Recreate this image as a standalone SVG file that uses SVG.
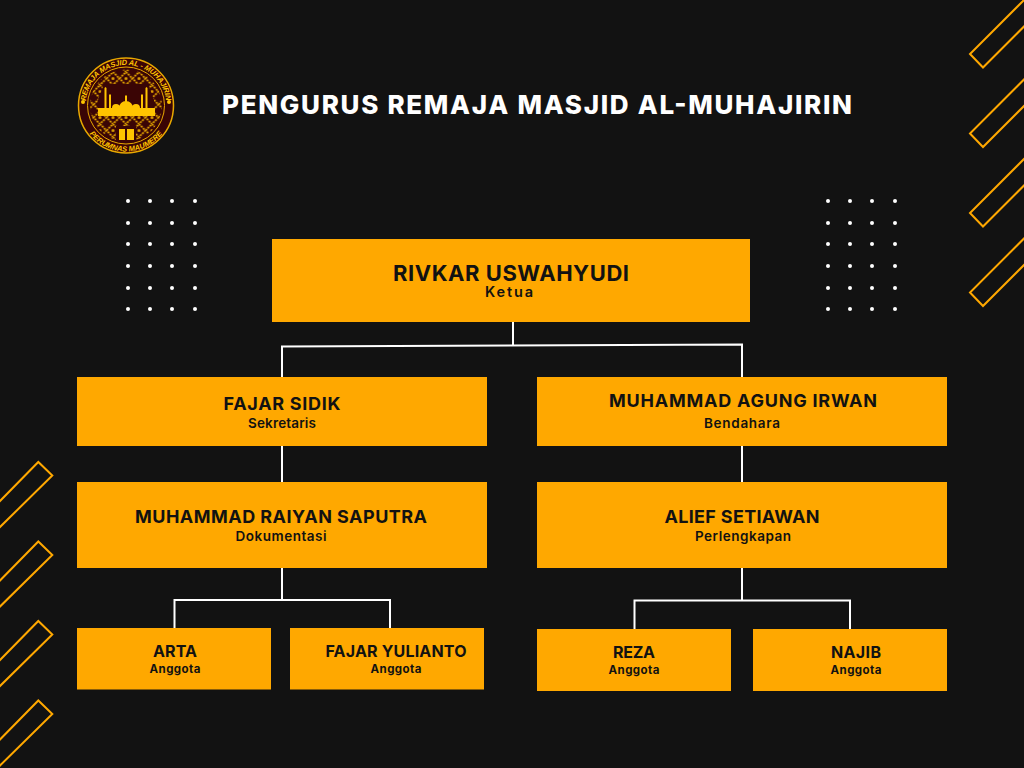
<svg xmlns="http://www.w3.org/2000/svg" width="1024" height="768" viewBox="0 0 1024 768">
<style>
.box{fill:#ffa800}
.t{font-family:"Inter","Liberation Sans",sans-serif;fill:#121212;text-anchor:middle}
.n1{font-size:22px;font-weight:700}
.n2{font-size:18px;font-weight:700}
.n3{font-size:16px;font-weight:700}
.r1{font-size:14.500px;font-weight:600}
.r2{font-size:13.500px;font-weight:600}
.r3{font-size:11.500px;font-weight:700}
.c{fill:none;stroke:#fff;stroke-width:2}
.d{fill:none;stroke:#ffa800;stroke-width:2}
.dot{fill:#fff}
.lg{font-family:"Liberation Sans",sans-serif;font-size:7.500px;font-style:italic;font-weight:700;fill:#ffc400}
</style>
<defs>
<g id="dots"><g id="dr"><circle class="dot" cx="0" cy="0" r="2"/><circle class="dot" cx="22" cy="0" r="2"/><circle class="dot" cx="44" cy="0" r="2"/><circle class="dot" cx="67" cy="0" r="2"/></g><use href="#dr" y="22"/><use href="#dr" y="43"/><use href="#dr" y="65"/><use href="#dr" y="87"/><use href="#dr" y="108"/></g>
<path id="sr" class="d" d="M1025 -1L970 54L983 67.500L1025 25.500"/>
<path id="sl" class="d" d="M-1 502L38.300 462L52.300 475.500L-1 528"/>
<path id="arcTop" d="M85.500 105.500A40.500 40.500 0 0 1 166.500 105.500"/>
<path id="arcBot" d="M80 105.500A46 46 0 0 0 172 105.500"/>
<pattern id="lat" width="13" height="13" patternUnits="userSpaceOnUse" x="119.500" y="72">
<path d="M0 6.500L6.500 0L13 6.500L6.500 13Z" fill="none" stroke="#e0a000" stroke-width="1.800" stroke-dasharray="2 1"/>
<circle cx="6.500" cy="6.500" r="1.500" fill="#e0a000"/>
</pattern>
<clipPath id="inner"><circle cx="126" cy="105.500" r="36"/></clipPath>
</defs>
<rect width="1024" height="768" fill="#121212"/>
<g id="deco">
<use href="#sr"/><use href="#sr" y="79.500"/><use href="#sr" y="159"/><use href="#sr" y="238.500"/>
<use href="#sl"/><use href="#sl" y="79.500"/><use href="#sl" y="159"/><use href="#sl" y="238.500"/>
<use href="#dots" x="128" y="201"/><use href="#dots" x="828" y="201"/>
</g>
<g id="logo">
<circle cx="126" cy="105.500" r="47.500" fill="#3a0505" stroke="#e8a800" stroke-width="1.500"/>
<circle cx="126" cy="105.500" r="38.500" fill="none" stroke="#e8a800" stroke-width="1"/>
<circle cx="83" cy="102" r="2" fill="#ffc400"/><circle cx="169" cy="102" r="2" fill="#ffc400"/>
<rect x="88" y="68" width="76" height="76" fill="url(#lat)" clip-path="url(#inner)"/>
<path d="M98 116V100L104 84H148L154 100V116Z" fill="#3a0505"/>
<path d="M116 126h20v16h-20z" fill="#3a0505"/>
<path d="M98 108h57v8h-57zM104.500 88l1-1 1 1v20h-2zM109 95l1-1 1 1v13h-2zM141 95l1-1 1 1v13h-2zM145.500 88l1-1 1 1v20h-2zM119 108a7 7 0 0 1 14 0zM112 108a4 4 0 0 1 8 0zM132 108a4 4 0 0 1 8 0zM125 96l1-1 1 1v6h-2zM119 129h6v11h-6zM127 129h7v11h-7z" fill="#ffc400"/>
<text class="lg" letter-spacing=".2"><textPath href="#arcTop" startOffset="50%" text-anchor="middle" textLength="118">REMAJA MASJID AL - MUHAJIRIN</textPath></text>
<text class="lg" font-size="7"><textPath href="#arcBot" startOffset="50%" text-anchor="middle">PERUMNAS MAUMERE</textPath></text>
</g>
<text id="title" x="537" y="114" font-family="Inter,Liberation Sans,sans-serif" font-size="26" font-weight="800" fill="#fff" text-anchor="middle" textLength="630" lengthAdjust="spacing">PENGURUS REMAJA MASJID AL-MUHAJIRIN</text>
<g id="connectors">
<path class="c" d="M513 322V345.500M282 377V346.500L742 344.500V377M282 446V482M742 446V482M282 568V599M174.500 628V600H390V628M742 568V600M634.500 629V600.500H850V629"/>
</g>
<g id="ketua"><rect class="box" x="272" y="239" width="478" height="83"/><text class="t n1" x="511" y="281" textLength="236">RIVKAR USWAHYUDI</text><text class="t r1" x="509" y="297" textLength="48">Ketua</text></g>
<g id="sekretaris"><rect class="box" x="77" y="377" width="410" height="69"/><text class="t n2" x="282" y="410" textLength="117">FAJAR SIDIK</text><text class="t r2" x="282" y="428" textLength="68">Sekretaris</text></g>
<g id="bendahara"><rect class="box" x="537" y="377" width="410" height="69"/><text class="t n2" x="743" y="407" textLength="268">MUHAMMAD AGUNG IRWAN</text><text class="t r2" x="742" y="428" textLength="76">Bendahara</text></g>
<g id="dokumentasi"><rect class="box" x="77" y="482" width="410" height="86"/><text class="t n2" x="281" y="523" textLength="292">MUHAMMAD RAIYAN SAPUTRA</text><text class="t r2" x="281" y="541" textLength="91">Dokumentasi</text></g>
<g id="perlengkapan"><rect class="box" x="537" y="482" width="410" height="86"/><text class="t n2" x="742" y="523" textLength="155">ALIEF SETIAWAN</text><text class="t r2" x="743" y="541" textLength="96">Perlengkapan</text></g>
<g id="arta"><rect class="box" x="77" y="628" width="194" height="61.500"/><text class="t n3" x="175" y="657" textLength="44">ARTA</text><text class="t r3" x="175" y="673" textLength="51">Anggota</text></g>
<g id="fajar-yulianto"><rect class="box" x="290" y="628" width="194" height="61.500"/><text class="t n3" x="396" y="657" textLength="141">FAJAR YULIANTO</text><text class="t r3" x="396" y="673" textLength="51">Anggota</text></g>
<g id="reza"><rect class="box" x="537" y="629" width="194" height="62"/><text class="t n3" x="634" y="658" textLength="42">REZA</text><text class="t r3" x="634" y="674" textLength="51">Anggota</text></g>
<g id="najib"><rect class="box" x="753" y="629" width="194" height="62"/><text class="t n3" x="856" y="658" textLength="50">NAJIB</text><text class="t r3" x="856" y="674" textLength="51">Anggota</text></g>
</svg>
